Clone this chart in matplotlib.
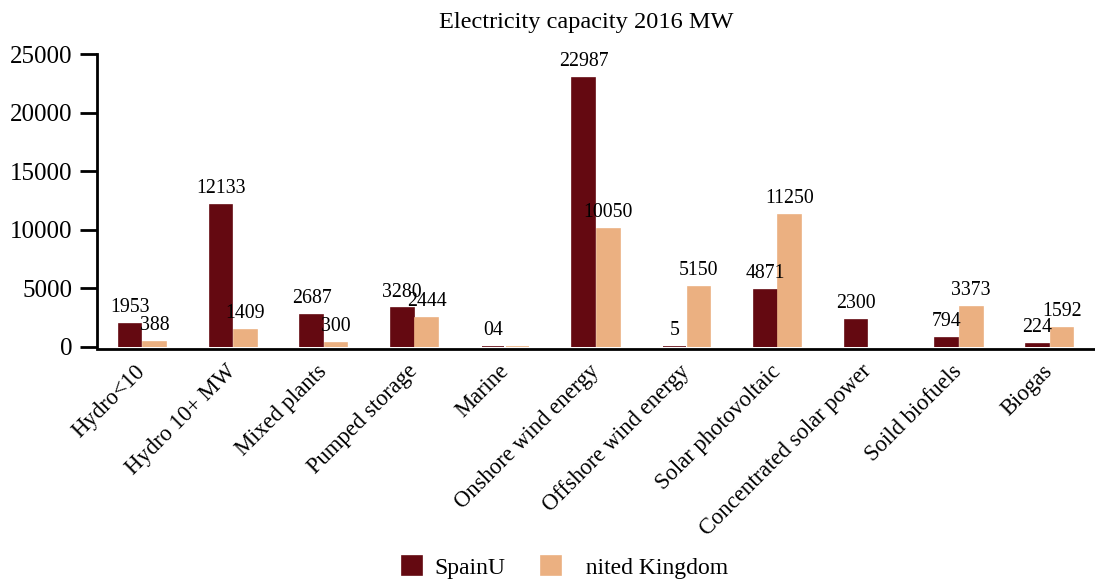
import matplotlib
matplotlib.use("Agg")
import matplotlib.pyplot as plt
import numpy as np

plt.rcParams["font.family"] = ["Liberation Serif", "DejaVu Serif"]

categories = ["Hydro<10", "Hydro 10+ MW", "Mixed plants", "Pumped storage", "Marine",
              "Onshore wind energy", "Offshore wind energy", "Solar photovoltaic",
              "Concentrated solar power", "Soild biofuels", "Biogas"]

spain_text = ["1953", "12133", "2687", "3280", "04", "22987", "5", "4871", "2300", "794", "224"]
uk_text = ["388", "1409", "300", "2444", "", "10050", "5150", "11250", "", "3373", "1592"]

spain = [int(s) for s in spain_text]
uk = [388, 1409, 300, 2444, 10, 10050, 5150, 11250, 0, 3373, 1592]

series_names = ["SpainU", "  nited Kingdom"]
colors = ["#640911", "#EBB081"]
yticks = [0, 5000, 10000, 15000, 20000, 25000]

fig = plt.figure(figsize=(10.95, 5.83), dpi=100)
ax = fig.add_axes([0.0886, 0.405, 0.9114, 0.502])

# spine placement first: repositioning a spine resets the tick formatting
for s in ["top", "right"]:
    ax.spines[s].set_visible(False)
for s in ["left", "bottom"]:
    ax.spines[s].set_linewidth(2)
ax.spines["bottom"].set_position(("outward", 1.5))

x = np.arange(len(categories))
w = 0.25
off = 0.135
b1 = ax.bar(x - off, spain, w, color=colors[0], edgecolor=colors[0],
            linewidth=[1.2 if v > 0 else 0 for v in spain], label=series_names[0])
b2 = ax.bar(x + off, uk, w, color=colors[1], edgecolor=colors[1],
            linewidth=[1.2 if v > 0 else 0 for v in uk], label=series_names[1])
ax.bar_label(b1, labels=spain_text, padding=5, fontsize=14.3)
ax.bar_label(b2, labels=uk_text, padding=5, fontsize=14.3)

ax.set_xlim(-0.5, len(categories) - 0.5)
ax.set_ylim(0, 25000)
ax.set_yticks(yticks)
ax.set_yticklabels([str(t) for t in yticks], fontsize=18)
ax.set_xticks(x)
ax.set_xticklabels(categories, rotation=45, ha="right", va="center",
                   rotation_mode="anchor", fontsize=16.3)
ax.tick_params(axis="x", length=0, pad=14)
ax.tick_params(axis="y", length=12, width=2, pad=6)

fig.text(0.535, 0.962, "Electricity capacity 2016 MW", ha="center", va="center", fontsize=17.6)

fig.legend(loc="center", bbox_to_anchor=(0.516, 0.027), ncol=2, frameon=False,
           fontsize=17, handlelength=0.85, handleheight=0.85, handletextpad=0.55,
           columnspacing=1.5)

fig.savefig("out.png", dpi=100)
